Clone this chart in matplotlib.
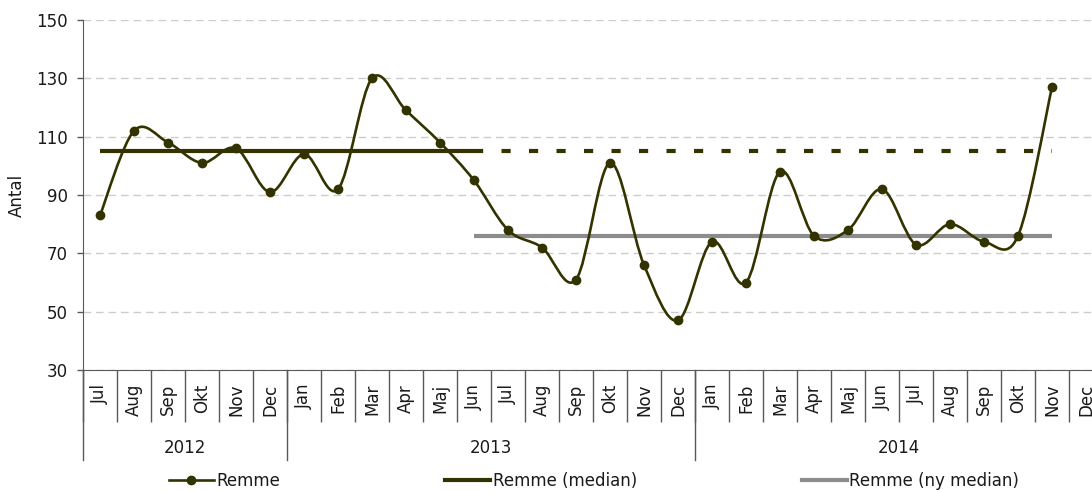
import matplotlib
matplotlib.use("Agg")
import matplotlib.pyplot as plt
import matplotlib.transforms as mtransforms
from matplotlib.path import Path
from matplotlib.patches import PathPatch
from matplotlib.lines import Line2D

OLIVE = "#333300"
GRAY = "#8c8c8c"
GRID = "#cccccc"
AXIS = "#595959"
TEXT = "#1a1a1a"

months = ["Jul", "Aug", "Sep", "Okt", "Nov", "Dec",
          "Jan", "Feb", "Mar", "Apr", "Maj", "Jun", "Jul", "Aug", "Sep", "Okt", "Nov", "Dec",
          "Jan", "Feb", "Mar", "Apr", "Maj", "Jun", "Jul", "Aug", "Sep", "Okt", "Nov", "Dec"]
years = ["2012", "2013", "2014"]
year_lengths = [6, 12, 12]

# Jul 2012 .. Nov 2014
remme = [83, 112, 108, 101, 106, 91,
         104, 92, 130, 119, 108, 95, 78, 72, 61, 101, 66, 47,
         74, 60, 98, 76, 78, 92, 73, 80, 74, 76, 127]

median_value = 105
new_median_value = 76
median_solid_span = (0, 11)     # Jul 2012 - Jun 2013
median_dashed_span = (11, 28)   # Jun 2013 - Nov 2014
new_median_span = (11, 28)      # Jun 2013 - Nov 2014


def smooth_path(xs, ys):
    # Catmull-Rom style bezier, similar to Excel's smoothed line
    verts = [(xs[0], ys[0])]
    codes = [Path.MOVETO]
    n = len(xs)
    for i in range(n - 1):
        x0, y0 = (xs[i - 1], ys[i - 1]) if i > 0 else (xs[i], ys[i])
        x3, y3 = (xs[i + 2], ys[i + 2]) if i + 2 < n else (xs[i + 1], ys[i + 1])
        c1 = (xs[i] + (xs[i + 1] - x0) / 6, ys[i] + (ys[i + 1] - y0) / 6)
        c2 = (xs[i + 1] - (x3 - xs[i]) / 6, ys[i + 1] - (y3 - ys[i]) / 6)
        verts += [c1, c2, (xs[i + 1], ys[i + 1])]
        codes += [Path.CURVE4] * 3
    return Path(verts, codes)


plt.rcParams["font.family"] = ["DejaVu Sans"]
plt.rcParams["font.size"] = 12

fig = plt.figure(figsize=(10.92, 4.91), dpi=100)
ax = fig.add_axes([83 / 1092, 1 - 370 / 491, 1020 / 1092, 350 / 491])

x = list(range(len(remme)))

# median lines
s0, s1 = median_solid_span
ax.plot([s0, s1], [median_value] * 2, color=OLIVE, lw=3, solid_capstyle="butt", zorder=3)
d0, d1 = median_dashed_span
ax.plot([d0, d1], [median_value] * 2, color=OLIVE, lw=3, dashes=(2.2, 4.4), zorder=3)
n0, n1 = new_median_span
ax.plot([n0, n1], [new_median_value] * 2, color=GRAY, lw=3, solid_capstyle="butt", zorder=3)

# smoothed data line + markers
ax.add_patch(PathPatch(smooth_path(x, remme), fill=False, edgecolor=OLIVE, lw=1.9, zorder=4))
ax.plot(x, remme, "o", color=OLIVE, ms=6, zorder=5)

ax.set_ylim(30, 150)
ax.set_yticks(range(30, 151, 20))
ax.set_xlim(-0.5, len(months) - 0.5)
ax.yaxis.grid(True, color=GRID, lw=1, dashes=(5.5, 3.5))
ax.set_axisbelow(True)

for side in ["top", "right"]:
    ax.spines[side].set_visible(False)
ax.spines["left"].set_color(AXIS)
ax.spines["bottom"].set_color(AXIS)

ax.tick_params(axis="y", direction="out", length=4.3, width=1, color=AXIS,
               pad=6.5, labelsize=12, labelcolor=TEXT)

ax.set_xticks(range(len(months)))
ax.set_xticklabels(months, rotation=90, fontsize=12, color=TEXT)
ax.tick_params(axis="x", which="major", length=0, pad=10)
ax.set_xticks([i - 0.5 for i in range(len(months) + 1)], minor=True)
ax.tick_params(axis="x", which="minor", direction="out", length=37.5, width=1, color=AXIS)

# year separators and labels
trans = mtransforms.blended_transform_factory(ax.transData, ax.transAxes)
edge = -0.5
ax.plot([edge, edge], [0, -90 / 350], color=AXIS, lw=1, transform=trans, clip_on=False)
for year, length in zip(years, year_lengths):
    ax.text(edge + length / 2, -78 / 350, year, ha="center", va="center",
            fontsize=12, color=TEXT, transform=trans)
    edge += length
    ax.plot([edge, edge], [0, -90 / 350], color=AXIS, lw=1, transform=trans, clip_on=False)

fig.text(17 / 1092, 1 - 195 / 491, "Antal", rotation=90, ha="center", va="center",
         fontsize=12, color=TEXT)

handles = [
    Line2D([], [], color=OLIVE, lw=1.9, marker="o", ms=6),
    Line2D([], [], color=OLIVE, lw=3),
    Line2D([], [], color=GRAY, lw=3),
]
labels = ["Remme", "Remme (median)", "Remme (ny median)"]
fig.legend(handles, labels, loc="center", bbox_to_anchor=(594 / 1092, 1 - 481 / 491),
           ncol=3, frameon=False, fontsize=12, handlelength=2.7, handletextpad=0.15,
           columnspacing=9.9, labelcolor=TEXT)

fig.savefig("out.png", dpi=100)
plt.close(fig)
